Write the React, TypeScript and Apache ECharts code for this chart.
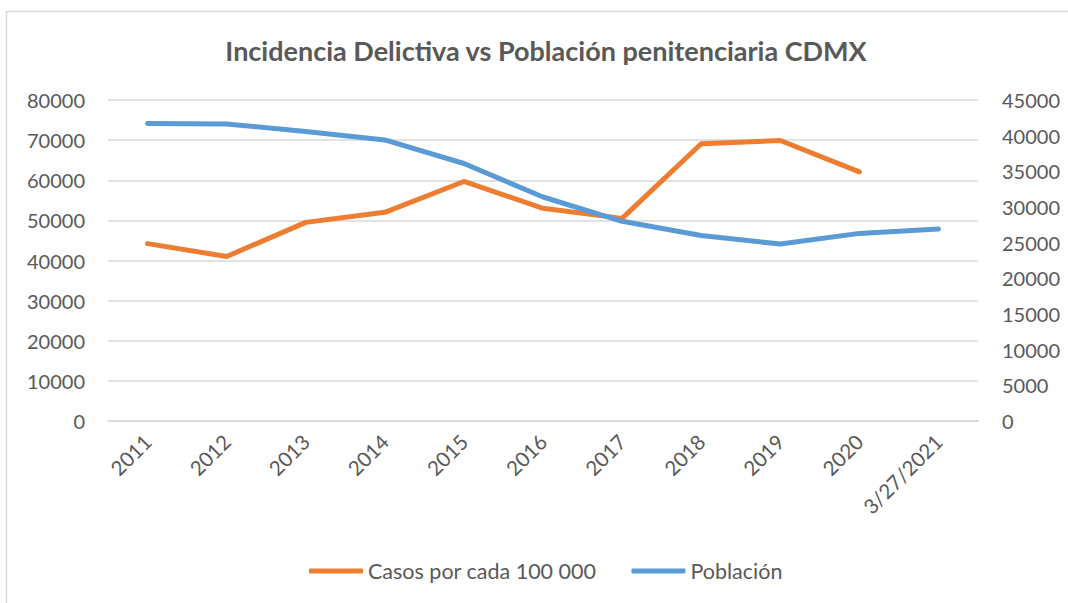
import React, { useEffect, useRef } from "react";
import * as echarts from "echarts";

const categories = ["2011", "2012", "2013", "2014", "2015", "2016", "2017", "2018", "2019", "2020", "3/27/2021"];
const casos = [44200, 41000, 49500, 52000, 59700, 53000, 50500, 69100, 69900, 62100, null];
const poblacion = [41700, 41650, 40600, 39400, 36100, 31400, 28000, 26000, 24800, 26300, 26900];
const leftTicks = { min: 0, max: 80000, interval: 10000 };
const rightTicks = { min: 0, max: 45000, interval: 5000 };

const FONT = "Lato";
const GREY = "#595959";
const plain = (v: number) => String(v);

export default function App() {
  const ref = useRef<HTMLDivElement>(null);
  useEffect(() => {
    document.body.style.margin = "0";
    const chart = echarts.init(ref.current!, null, { renderer: "svg" });
    chart.setOption({
      animation: false,
      backgroundColor: "#ffffff",
      textStyle: { fontFamily: FONT },
      graphic: [
        {
          type: "rect",
          shape: { x: 6.5, y: 11.5, width: 1080, height: 620 },
          style: { fill: "none", stroke: "#d9d9d9", lineWidth: 1.5 },
          silent: true,
        },
      ],
      title: {
        text: "Incidencia Delictiva vs Población penitenciaria CDMX",
        left: 541,
        top: 32,
        textAlign: "center",
        textStyle: { fontFamily: FONT, fontSize: 27, fontWeight: "bold", color: GREY },
      },
      legend: {
        left: 304,
        top: 555,
        itemWidth: 54,
        itemHeight: 5,
        itemGap: 35,
        icon: "roundRect",
        textStyle: { fontFamily: FONT, fontSize: 21.5, color: GREY },
        data: ["Casos por cada 100 000", "Población"],
      },
      grid: { left: 108, right: 90, top: 100, bottom: 182, containLabel: false },
      xAxis: {
        type: "category",
        data: categories,
        boundaryGap: true,
        axisLine: { show: true, lineStyle: { color: "#d9d9d9", width: 1.5 } },
        axisTick: { show: false },
        axisLabel: { rotate: 45, margin: 17, fontFamily: FONT, fontSize: 20.5, color: GREY, interval: 0 },
      },
      yAxis: [
        {
          type: "value",
          ...leftTicks,
          position: "left",
          axisLine: { show: false },
          axisTick: { show: false },
          splitLine: { show: true, lineStyle: { color: "#d9d9d9", width: 1.5 } },
          axisLabel: { margin: 23, fontFamily: FONT, fontSize: 20, color: GREY, formatter: plain },
        },
        {
          type: "value",
          ...rightTicks,
          position: "right",
          axisLine: { show: false },
          axisTick: { show: false },
          splitLine: { show: false },
          axisLabel: { margin: 24, fontFamily: FONT, fontSize: 20, color: GREY, formatter: plain },
        },
      ],
      series: [
        {
          name: "Casos por cada 100 000",
          type: "line",
          yAxisIndex: 0,
          data: casos,
          symbol: "none",
          color: "#ED7D31",
          lineStyle: { color: "#ED7D31", width: 5, cap: "round", join: "round" },
        },
        {
          name: "Población",
          type: "line",
          yAxisIndex: 1,
          data: poblacion,
          symbol: "none",
          color: "#5B9BD5",
          lineStyle: { color: "#5B9BD5", width: 5, cap: "round", join: "round" },
        },
      ],
    });
    return () => chart.dispose();
  }, []);
  return <div ref={ref} style={{ width: 1068, height: 603 }} />;
}
